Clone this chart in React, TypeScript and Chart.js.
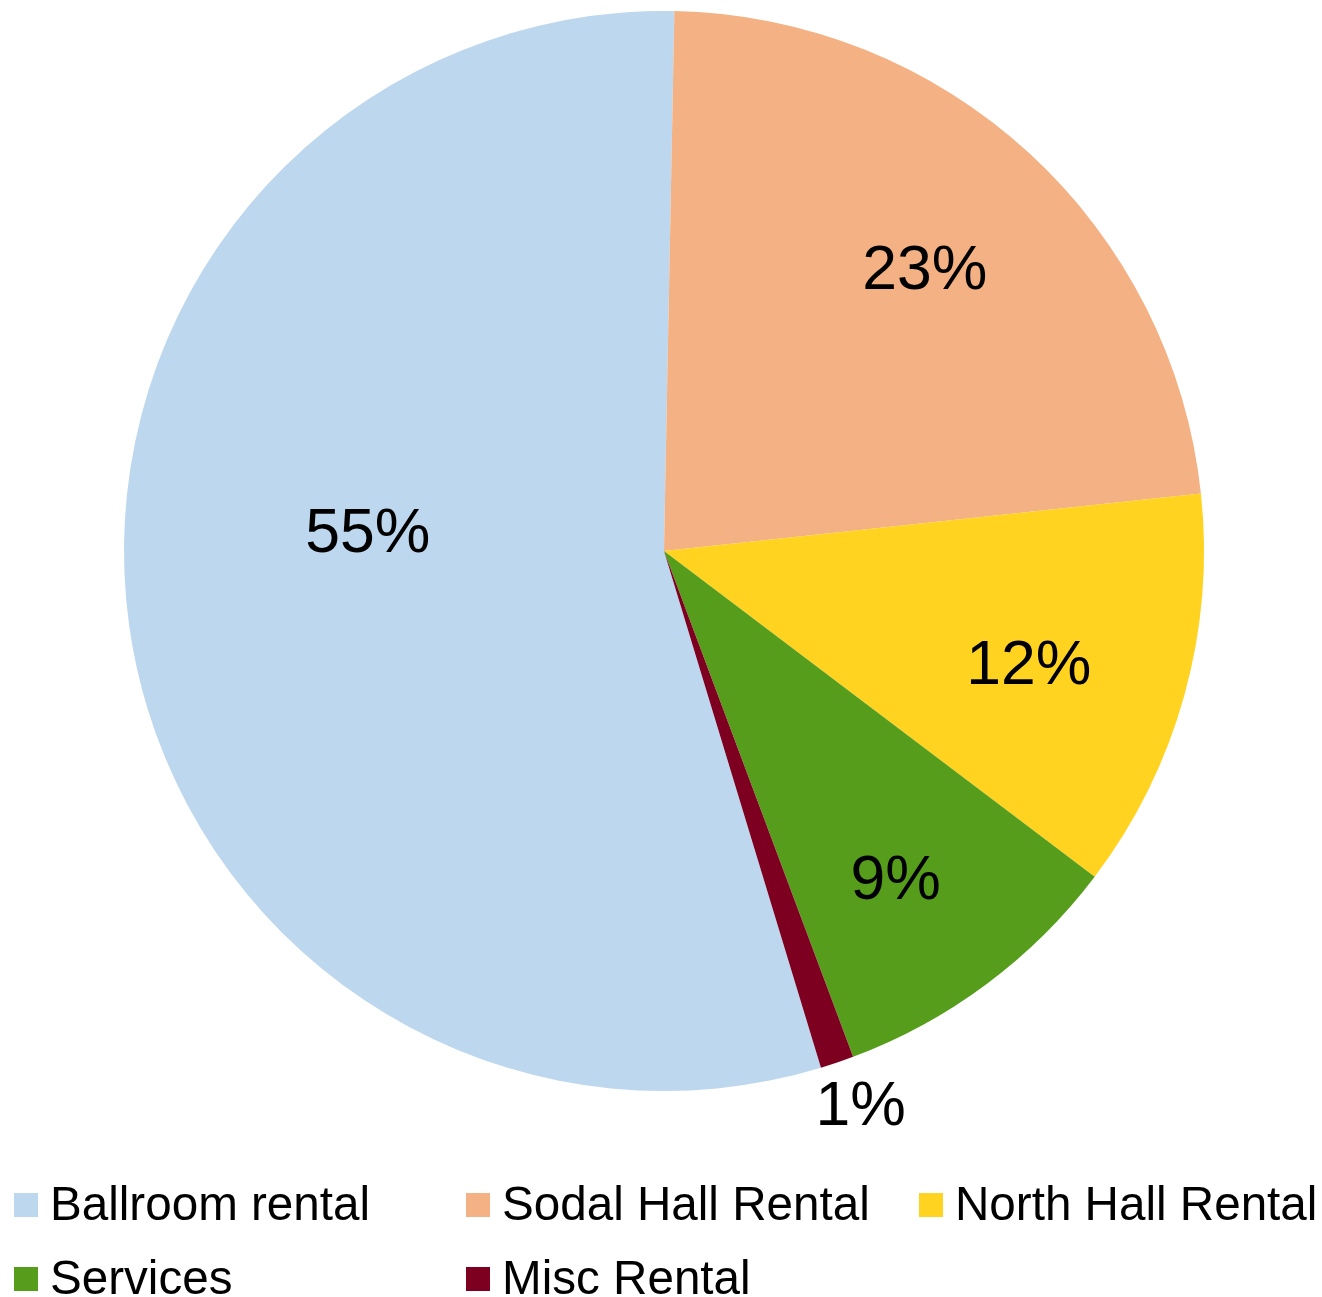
import React, { useEffect, useRef } from "react";
import { Chart, registerables } from "chart.js";

Chart.register(...registerables);

const categories = ["Ballroom rental", "Sodal Hall Rental", "North Hall Rental", "Services", "Misc Rental"];
const shares = [55.0, 23.0, 12.0, 9.0, 1.0];
const colors = ["#BDD7EE", "#F4B183", "#FFD320", "#579D1C", "#7E0021"];

// label placement (fraction of radius, angular shift in degrees)
const labelRadius = [0.55, 0.715, 0.706, 0.74, 1.085];
const labelShift = [12, 0, 1.4, 1.25, -0.9];

const FONT = '"Liberation Sans", Arial, sans-serif';

const labelPlugin = {
  id: "pctLabels",
  afterDatasetsDraw(chart: any) {
    const ctx = chart.ctx;
    const meta = chart.getDatasetMeta(0);
    const data = chart.data.datasets[0].data as number[];
    const total = data.reduce((a: number, b: number) => a + b, 0);
    ctx.save();
    ctx.font = `62.5px ${FONT}`;
    ctx.fillStyle = "#000";
    ctx.textAlign = "center";
    ctx.textBaseline = "alphabetic";
    meta.data.forEach((arc: any, i: number) => {
      const mid = (arc.startAngle + arc.endAngle) / 2 + (labelShift[i] * Math.PI) / 180;
      const r = arc.outerRadius * labelRadius[i];
      const x = arc.x + Math.cos(mid) * r;
      const y = arc.y + Math.sin(mid) * r;
      const txt = Math.round((data[i] / total) * 100) + "%";
      ctx.fillText(txt, x, y + 62 * 0.358);
    });
    ctx.restore();
  },
};

const legendPlugin = {
  id: "gridLegend",
  afterDraw(chart: any) {
    const ctx = chart.ctx;
    const labels = chart.data.labels as string[];
    const bg = chart.data.datasets[0].backgroundColor as string[];
    const colX = [14, 466, 919];
    const rowTop = [1193, 1267];
    ctx.save();
    ctx.font = `47.6px ${FONT}`;
    ctx.textAlign = "left";
    ctx.textBaseline = "alphabetic";
    labels.forEach((lab, i) => {
      const col = i % 3;
      const row = Math.floor(i / 3);
      const x = colX[col];
      const y = rowTop[row];
      ctx.fillStyle = bg[i];
      ctx.fillRect(x, y, 24, 24);
      ctx.fillStyle = "#000";
      ctx.fillText(lab, x + 36, y + 27);
    });
    ctx.restore();
  },
};

export default function App() {
  const ref = useRef<HTMLCanvasElement>(null);
  useEffect(() => {
    if (!ref.current) return;
    const chart = new Chart(ref.current, {
      type: "pie",
      data: {
        labels: categories,
        datasets: [
          {
            data: shares,
            backgroundColor: colors,
            borderWidth: 0,
            hoverOffset: 0,
          },
        ],
      },
      options: {
        responsive: false,
        animation: false,
        rotation: 163.1,
        layout: { padding: { top: 11, bottom: 206, left: 6, right: 0 } },
        plugins: {
          legend: { display: false },
          tooltip: { enabled: false },
        },
        events: [],
      },
      plugins: [labelPlugin, legendPlugin],
    });
    return () => chart.destroy();
  }, []);
  return (
    <div style={{ position: "absolute", left: 0, top: 0, width: 1322, height: 1297, background: "#fff" }}>
      <canvas ref={ref} width={1322} height={1297} style={{ display: "block" }} />
    </div>
  );
}
